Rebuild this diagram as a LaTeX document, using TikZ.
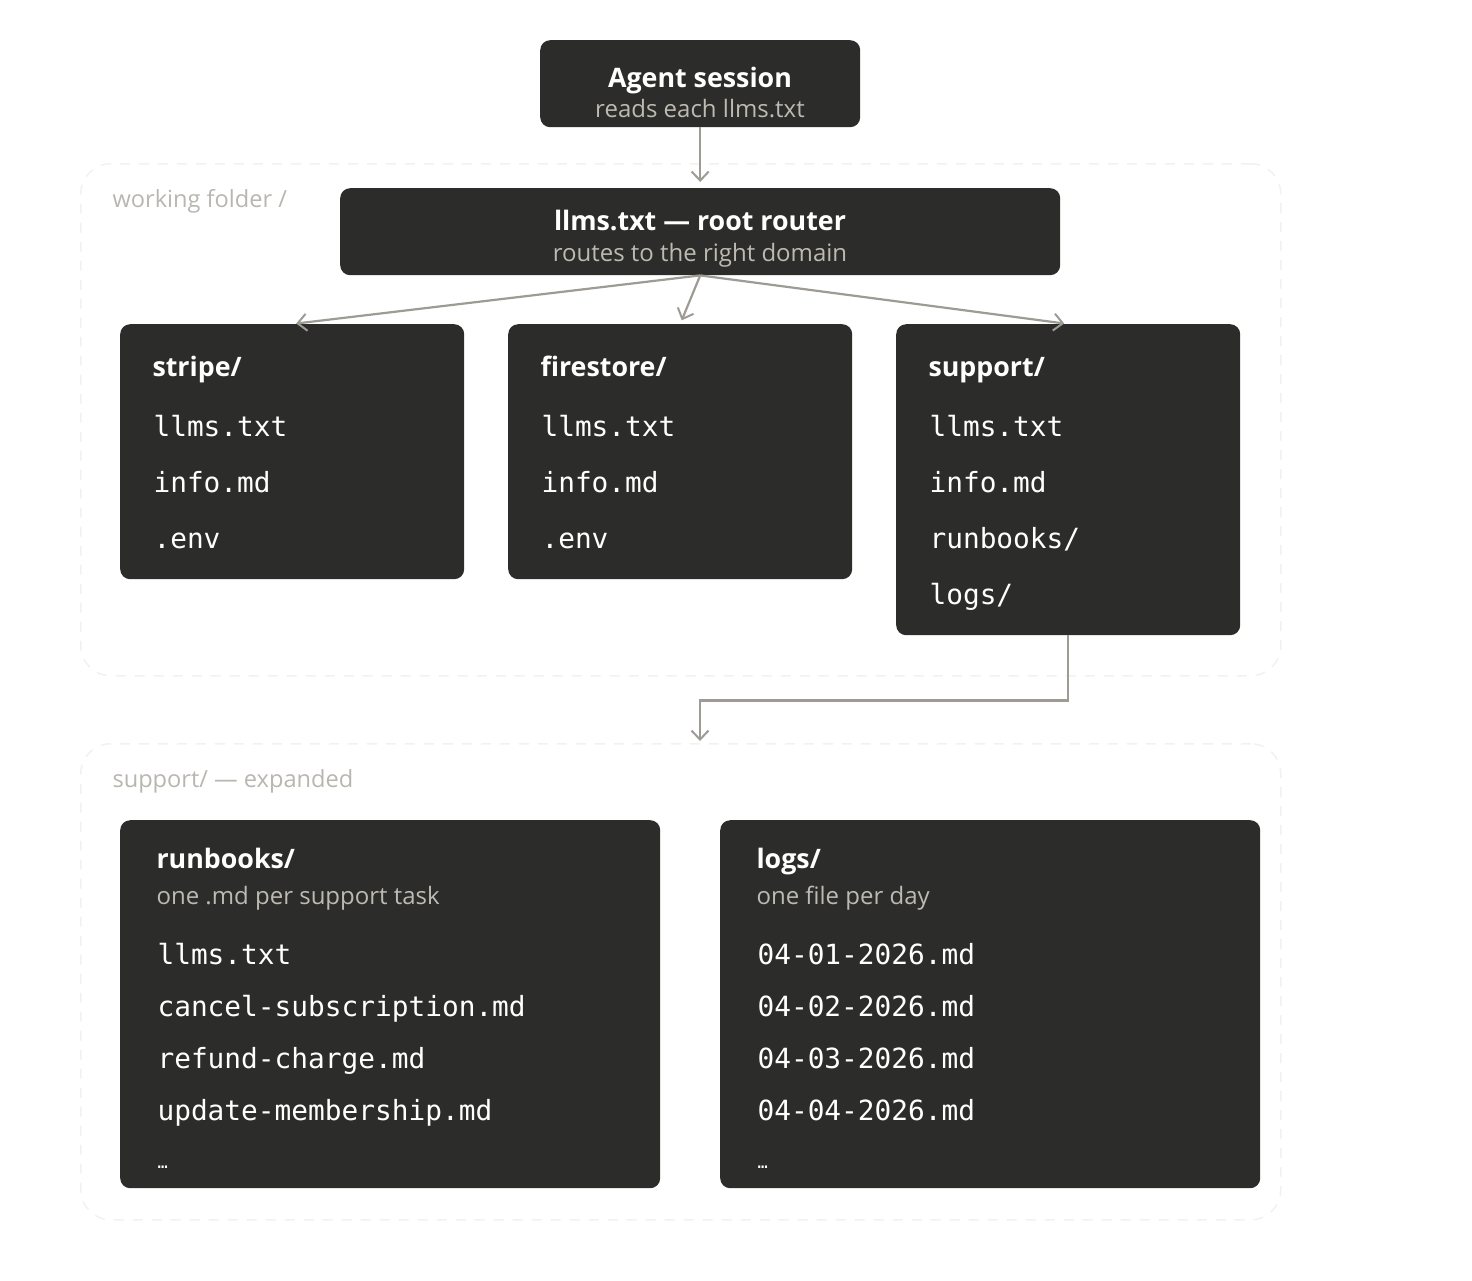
\documentclass[tikz,border=0pt]{standalone}
\usepackage{fontspec}
\setmainfont{Open Sans}
\newfontfamily\codefont{DejaVu Sans Mono}
\usepackage{tikz}
\usetikzlibrary{arrows.meta}

\definecolor{boxfill}{HTML}{2C2C2A}
\definecolor{subtext}{HTML}{BDBAB2}
\definecolor{linkcol}{HTML}{9E9B94}
\definecolor{groupline}{HTML}{F1F1EF}
\definecolor{grouptext}{HTML}{B9B6AF}

\tikzset{
  box/.style={fill=boxfill, rounded corners=10pt, anchor=north west, inner sep=0pt},
  group/.style={draw=groupline, line width=1.5pt, dash pattern=on 10pt off 9pt,
    rounded corners=30pt, anchor=north west, inner sep=0pt},
  link/.style={draw=linkcol, line width=2.2pt, -{Straight Barb[length=9pt,width=17pt,line width=2pt]}},
  headtxt/.style={text=white, font=\fontsize{26.8}{32}\selectfont\bfseries},
  subtxt/.style={text=subtext, font=\fontsize{24}{28}\selectfont},
  grouptxt/.style={text=grouptext, font=\fontsize{23.6}{28}\selectfont, anchor=base west},
  filetxt/.style={text=white, font=\codefont\fontsize{27.8}{32}\selectfont, anchor=base west},
}

\begin{document}
\begin{tikzpicture}[x=1pt, y=-1pt]
\useasboundingbox (0,0) rectangle (1472,1280);

% containers
\node[group, minimum width=1200, minimum height=512] (work) at (80,163) {};
\node[group, minimum width=1200, minimum height=476] (expanded) at (80,743) {};
\node[grouptxt] (worklbl) at (109,207) {working folder /};
\node[grouptxt] (explbl) at (109,787) {support/ — expanded};

% top boxes
\node[box, minimum width=320, minimum height=87] (agent) at (540,40) {};
\node[headtxt, anchor=base] (agenthead) at (700,87) {Agent session};
\node[subtxt, anchor=base] (agentsub) at (700,117) {reads each llms.txt};

\node[box, minimum width=720, minimum height=87] (root) at (340,188) {};
\node[headtxt, anchor=base] (roothead) at (700,230) {llms.txt — root router};
\node[subtxt, anchor=base] (rootsub) at (700,261) {routes to the right domain};

% domain folders
\node[box, minimum width=344, minimum height=255] (stripe) at (120,324) {};
\node[box, minimum width=344, minimum height=255] (firestore) at (508,324) {};
\node[box, minimum width=344, minimum height=311] (support) at (896,324) {};

\node[headtxt, anchor=base west] (stripehead) at (149,376) {stripe/};
\node[headtxt, anchor=base west] (firehead) at (537,376) {firestore/};
\node[headtxt, anchor=base west] (supphead) at (925,376) {support/};

\foreach \px/\nm in {150/stripe, 538/fire}{
  \node[filetxt] (\nm f1) at (\px,436) {llms.txt};
  \node[filetxt] (\nm f2) at (\px,492) {info.md};
  \node[filetxt] (\nm f3) at (\px,548) {.env};
}
\node[filetxt] (suppf1) at (926,436) {llms.txt};
\node[filetxt] (suppf2) at (926,492) {info.md};
\node[filetxt] (suppf3) at (926,548) {runbooks/};
\node[filetxt] (suppf4) at (926,604) {logs/};

% expanded support
\node[box, minimum width=540, minimum height=368] (runbooks) at (120,820) {};
\node[box, minimum width=540, minimum height=368] (logs) at (720,820) {};

\node[headtxt, anchor=base west] (runhead) at (153,868) {runbooks/};
\node[subtxt, anchor=base west] (runsub) at (153,904) {one .md per support task};
\node[filetxt] (runf1) at (154,964) {llms.txt};
\node[filetxt] (runf2) at (154,1016) {cancel-subscription.md};
\node[filetxt] (runf3) at (154,1068) {refund-charge.md};
\node[filetxt] (runf4) at (154,1120) {update-membership.md};
\node[filetxt, font=\codefont\fontsize{17}{20}\selectfont] (runf5) at (154,1168) {…};

\node[headtxt, anchor=base west] (loghead) at (753,868) {logs/};
\node[subtxt, anchor=base west] (logsub) at (753,904) {one file per day};
\node[filetxt] (logf1) at (754,964) {04-01-2026.md};
\node[filetxt] (logf2) at (754,1016) {04-02-2026.md};
\node[filetxt] (logf3) at (754,1068) {04-03-2026.md};
\node[filetxt] (logf4) at (754,1120) {04-04-2026.md};
\node[filetxt, font=\codefont\fontsize{17}{20}\selectfont] (logf5) at (754,1168) {…};

% connectors
\coordinate (exptip) at (700,741);
\draw[link, shorten >=6pt] (agent.south) -- (root.north);
\draw[link, shorten >=4pt] (root.south) -- (stripe.north);
\draw[link, shorten >=4pt] (root.south) -- (firestore.north);
\draw[link, shorten >=4pt] (root.south) -- (support.north);
\draw[link] (support.south) -- ++(0,65) -| (exptip);
\end{tikzpicture}
\end{document}
